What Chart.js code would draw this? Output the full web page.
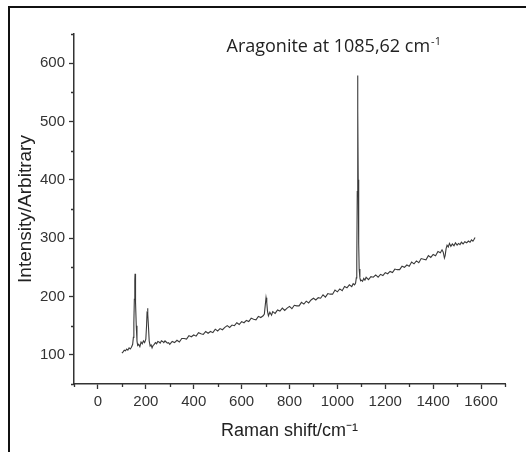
<!DOCTYPE html>
<html>
<head>
<meta charset="utf-8">
<script src="https://cdn.jsdelivr.net/npm/chart.js@4"></script>
<style>
  html, body { margin: 0; padding: 0; background: #fff; overflow: hidden; }
  #wrap { position: relative; width: 526px; height: 452px; }
  #frame { position: absolute; left: 8px; top: 6px; width: 518px; height: 446px; box-sizing: border-box; border-top: 2px solid #111; border-left: 2px solid #111; pointer-events: none; }
</style>
</head>
<body>
<div id="wrap">
  <canvas id="c" width="526" height="452"></canvas>
  <div id="frame"></div>
</div>
<script>
// Raman shift (cm-1)
const ramanShift = [
  100,105,110,115,120,125,130,135,140,145,148,150,152,154,155,156,158,160,163,166,170,175,180,185,190,195,200,203,205,207,209,211,214,218,222,226,230,
  235,240,245,250,255,260,265,270,275,280,285,290,295,300,310,320,330,340,350,360,370,380,390,400,410,420,430,440,450,460,470,480,490,500,
  510,520,530,540,550,560,570,580,590,600,610,620,630,640,650,660,670,680,690,695,699,702,705,708,712,718,725,730,
  740,750,760,770,780,790,800,810,820,830,840,850,860,870,880,890,900,910,920,930,940,950,960,970,980,990,1000,
  1010,1020,1030,1040,1050,1060,1066,1072,1076,1079,1081,1083,1084,1085,1086,1087,1089,1091,1094,1097,1100,1105,1110,1115,1120,1130,1140,1150,1160,1170,1180,1190,1200,
  1210,1220,1230,1240,1250,1260,1270,1280,1290,1300,1310,1320,1330,1340,1350,1360,1370,1380,1390,1400,1410,1420,1430,1437,1442,
  1447,1450,1454,1458,1463,1468,1474,1480,1487,1493,1500,1506,1512,1518,1525,1532,1540,1547,1554,1560,1566,1571,1575
];
// Intensity (arbitrary units)
const intensity = [
  103,105,108,107,110,108,112,110,113,118,130,155,195,228,239,230,190,150,124,116,118,114,122,119,124,121,127,150,172,180,170,148,124,115,117,112,116,
  118,121,119,123,122,120,124,123,121,124,122,120,121,118,123,121,125,122,128,128,127,133,131,134,132,138,136,135,140,137,140,138,144,141,
  145,143,147,150,147,151,150,155,152,157,155,159,157,163,161,160,166,164,167,170,186,198,190,175,167,173,168,174,
  171,177,175,180,176,180,183,179,185,184,184,190,187,192,189,194,197,194,198,197,203,199,205,204,204,211,208,
  213,210,217,215,220,217,222,220,223,232,262,380,510,579,520,400,290,247,232,227,228,226,231,228,233,229,234,233,237,233,238,236,241,
  239,243,241,247,246,246,252,250,254,252,259,256,261,258,265,264,263,270,267,272,270,277,275,280,276,
  266,270,282,288,285,291,286,290,287,292,288,291,289,293,290,294,292,295,293,297,295,298,301
];
const xTickLabels = [0, 200, 400, 600, 800, 1000, 1200, 1400, 1600];
const yTickLabels = [100, 200, 300, 400, 500, 600];
const annotationText = 'Aragonite at 1085,62 cm';
const annotationSup = '-1';
const annotationAnchor = { x: 537, y: 620 };

const FONT = "'Liberation Sans', Arial, Helvetica, sans-serif";
const AXIS = '#333333';

const isMajorX = v => xTickLabels.includes(v);
const isMajorY = v => yTickLabels.includes(v);

const extrasPlugin = {
  id: 'extras',
  afterDraw(chart) {
    const ctx = chart.ctx;
    const xs = chart.scales.x, ys = chart.scales.y;
    ctx.save();
    // minor ticks
    ctx.strokeStyle = AXIS;
    ctx.lineWidth = 1.3;
    ctx.beginPath();
    xs.ticks.forEach(t => {
      if (!isMajorX(t.value)) {
        const px = Math.round(xs.getPixelForValue(t.value)) + 0.5;
        ctx.moveTo(px, xs.top);
        ctx.lineTo(px, xs.top + 3);
      }
    });
    ys.ticks.forEach(t => {
      if (!isMajorY(t.value)) {
        const py = Math.round(ys.getPixelForValue(t.value)) + 0.5;
        ctx.moveTo(ys.right, py);
        ctx.lineTo(ys.right - 3, py);
      }
    });
    ctx.stroke();
    // annotation
    const ax = xs.getPixelForValue(annotationAnchor.x);
    const ay = ys.getPixelForValue(annotationAnchor.y);
    ctx.fillStyle = '#222';
    ctx.textBaseline = 'alphabetic';
    ctx.textAlign = 'left';
    ctx.font = "18px 'Open Sans', Lato, sans-serif";
    ctx.fillText(annotationText, ax, ay);
    const w = ctx.measureText(annotationText).width;
    ctx.font = "11px 'Open Sans', Lato, sans-serif";
    ctx.fillText(annotationSup, ax + w + 1, ay - 7);
    ctx.restore();
  }
};

new Chart(document.getElementById('c'), {
  type: 'line',
  data: {
    datasets: [{
      data: ramanShift.map((x, i) => ({ x: x, y: intensity[i] })),
      borderColor: '#3a3a3a',
      borderWidth: 1.1,
      pointRadius: 0,
      tension: 0,
      fill: false
    }]
  },
  options: {
    responsive: false,
    animation: false,
    events: [],
    layout: { padding: { left: 9, top: 34, right: 21, bottom: 0 } },
    plugins: { legend: { display: false }, tooltip: { enabled: false } },
    scales: {
      x: {
        type: 'linear',
        min: -100,
        max: 1700,
        afterFit: s => { s.height = 68; },
        ticks: {
          stepSize: 100,
          autoSkip: false,
          maxRotation: 0,
          padding: 4,
          color: AXIS,
          font: { family: FONT, size: 15 },
          callback: v => (isMajorX(v) ? String(v) : '')
        },
        grid: {
          drawOnChartArea: false,
          drawTicks: true,
          tickLength: 5,
          tickWidth: 1.3,
          tickColor: c => (c.tick && isMajorX(c.tick.value) ? AXIS : 'rgba(0,0,0,0)')
        },
        border: { display: true, color: AXIS, width: 1.5 },
        title: {
          display: true,
          text: 'Raman shift/cm⁻¹',
          color: '#222',
          font: { family: FONT, size: 18 },
          padding: { top: 0, bottom: 10 }
        }
      },
      y: {
        type: 'linear',
        min: 50,
        max: 650,
        afterFit: s => { s.width = 65; },
        ticks: {
          stepSize: 50,
          autoSkip: false,
          padding: 4,
          color: AXIS,
          font: { family: FONT, size: 15 },
          callback: v => (isMajorY(v) ? String(v) : '')
        },
        grid: {
          drawOnChartArea: false,
          drawTicks: true,
          tickLength: 5,
          tickWidth: 1.3,
          tickColor: c => (c.tick && isMajorY(c.tick.value) ? AXIS : 'rgba(0,0,0,0)')
        },
        border: { display: true, color: AXIS, width: 1.5 },
        title: {
          display: true,
          text: 'Intensity/Arbitrary',
          color: '#222',
          font: { family: FONT, size: 19 },
          padding: { top: 5, bottom: 0 }
        }
      }
    }
  },
  plugins: [extrasPlugin]
});
</script>
</body>
</html>
